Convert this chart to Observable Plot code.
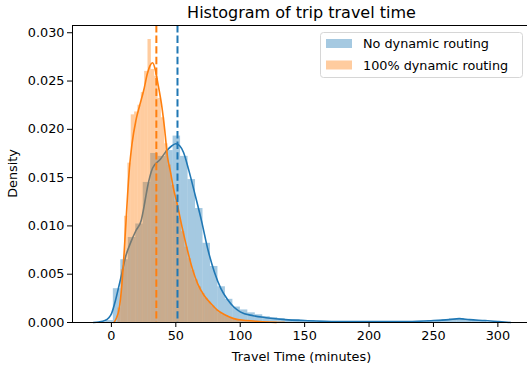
<!DOCTYPE html>
<html><head><meta charset="utf-8">
<script src="https://cdn.jsdelivr.net/npm/d3@7"></script>
<script src="https://cdn.jsdelivr.net/npm/@observablehq/plot@0.6"></script>
<style>
body{margin:0;background:#fff;}
#wrap{width:527px;height:370px;}
</style></head><body><div id="wrap"></div>
<script>
// ---- data ----
const seriesNames = ["No dynamic routing", "100% dynamic routing"];
const seriesColors = ["#1f77b4", "#ff7f0e"];

// histogram (density) — No dynamic routing
const blueBinStart = -4.3, blueBinWidth = 5.8;
const blueDensity = [0.0002, 0.0035, 0.0065, 0.0088, 0.0102, 0.0145, 0.0175, 0.0172, 0.0178, 0.0193,
  0.0172, 0.0148, 0.0118, 0.0082, 0.0058, 0.0037, 0.0024, 0.0016, 0.0013, 0.0010,
  0.0008, 0.0006, 0.0005, 0.0004, 0.0003, 0.0003, 0.0002, 0.0002, 0.0001, 0.0001,
  0.0001, 0.0001, 0.0001, 0.0001, 0.0001, 0.0001, 0.0001, 0.0001, 0.0001, 0.0001,
  0.0001, 0.0001, 0.0001, 0.0002, 0.0002, 0.0003, 0.0004, 0.0004, 0.0003, 0.0002, 0.0001];

// histogram (density) — 100% dynamic routing
const orangeBinStart = 5.0, orangeBinWidth = 2.6;
const orangeDensity = [0.0015, 0.0055, 0.011, 0.0165, 0.0215, 0.0218, 0.0225, 0.0238, 0.026, 0.0293,
  0.0262, 0.0255, 0.0232, 0.0212, 0.0185, 0.0163, 0.0142, 0.0125, 0.0108, 0.0094,
  0.0078, 0.0066, 0.0054, 0.0044, 0.0037, 0.003, 0.0025, 0.0021, 0.0017, 0.0013,
  0.001, 0.0008, 0.0007, 0.0005, 0.0004, 0.0003, 0.0003, 0.0002, 0.0002, 0.0001,
  0.0001, 0.0001, 0.0001, 0.0001, 0.0001, 0.0001, 0.0001, 0.0001, 0.0001, 0.0001];

// KDE curves
const blueKdeX = [-14, -10, -5, -2, 0, 3, 5, 8, 11, 15, 19, 23, 26, 28, 32, 38, 43, 47, 50, 53, 56, 60, 65, 70, 75, 80, 85, 90, 95, 100, 110, 120, 135, 150, 175, 200, 230, 250, 262, 270, 278, 290, 300, 310];
const blueKdeY = [0, 0.00005, 0.0002, 0.0005, 0.0009, 0.0022, 0.0033, 0.005, 0.0068, 0.0083, 0.0095, 0.0105, 0.0125, 0.014, 0.016, 0.0169, 0.0178, 0.0183, 0.0185, 0.0183, 0.0176, 0.0158, 0.0132, 0.0105, 0.0075, 0.0052, 0.0035, 0.0024, 0.0016, 0.0011, 0.0007, 0.0005, 0.0003, 0.0002, 0.0001, 0.0001, 0.0001, 0.0002, 0.0003, 0.0004, 0.0003, 0.0002, 0.0001, 0];
const orangeKdeX = [2, 4, 6, 8, 10, 12, 14, 16, 19, 22, 25, 28, 30, 32, 34, 36, 39, 41.5, 43.5, 46, 48, 51, 55, 59, 63, 67, 72, 77, 82, 88, 95, 105, 115, 128];
const orangeKdeY = [0, 0.0005, 0.0014, 0.0037, 0.0075, 0.012, 0.016, 0.0185, 0.0209, 0.0225, 0.024, 0.0258, 0.0266, 0.0269, 0.0262, 0.0248, 0.0225, 0.0198, 0.0172, 0.0155, 0.014, 0.0123, 0.0098, 0.0075, 0.0055, 0.004, 0.0028, 0.002, 0.0013, 0.0008, 0.0004, 0.0002, 0.0001, 0];

// means (dashed lines)
const blueMean = 51.3, orangeMean = 34.9;

// ticks & labels
const xTicks = [0, 50, 100, 150, 200, 250, 300];
const yTicks = [0, 0.005, 0.010, 0.015, 0.020, 0.025, 0.030];
const titleText = "Histogram of trip travel time";
const xLabel = "Travel Time (minutes)";
const yLabel = "Density";

// ---- build tables ----
const bins = (start, w, ys) => ys.map((y, i) => ({x1: start + i * w, x2: start + (i + 1) * w, y}));
const blueBins = bins(blueBinStart, blueBinWidth, blueDensity);
const orangeBins = bins(orangeBinStart, orangeBinWidth, orangeDensity);
const blueKde = blueKdeX.map((x, i) => ({x, y: blueKdeY[i]}));
const orangeKde = orangeKdeX.map((x, i) => ({x, y: orangeKdeY[i]}));

const FONT = "DejaVu Sans, sans-serif";
const xDomain = [-30.2, 323];
const yDomain = [0, 0.03075];

const plot = Plot.plot({
  width: 527, height: 370,
  marginLeft: 72, marginRight: 0, marginTop: 25, marginBottom: 48,
  style: {fontFamily: FONT, fontSize: "12.8px", color: "#000", background: "#fff", overflow: "visible"},
  x: {domain: xDomain},
  y: {domain: yDomain},
  marks: [
    Plot.rectY(blueBins, {x1: "x1", x2: "x2", y: "y", fill: seriesColors[0], fillOpacity: 0.4, inset: 0}),
    Plot.line(blueKde, {x: "x", y: "y", stroke: seriesColors[0], strokeWidth: 1.6, curve: "monotone-x"}),
    Plot.rectY(orangeBins, {x1: "x1", x2: "x2", y: "y", fill: seriesColors[1], fillOpacity: 0.4, inset: 0}),
    Plot.line(orangeKde, {x: "x", y: "y", stroke: seriesColors[1], strokeWidth: 1.6, curve: "monotone-x"}),
    Plot.ruleX([orangeMean], {stroke: seriesColors[1], strokeWidth: 2, strokeDasharray: "7.4,3.2"}),
    Plot.ruleX([blueMean], {stroke: seriesColors[0], strokeWidth: 2, strokeDasharray: "7.4,3.2"}),
    Plot.ruleX([xDomain[0]], {stroke: "#000", strokeWidth: 1}),
    Plot.ruleY([yDomain[0]], {stroke: "#000", strokeWidth: 1}),
    Plot.ruleY([yDomain[1]], {stroke: "#000", strokeWidth: 1}),
    Plot.axisX({ticks: xTicks, tickSize: 5, tickPadding: 3, label: null, fontSize: 12.8}),
    Plot.axisY({ticks: yTicks, tickSize: 5, tickPadding: 3, tickFormat: d3.format(".3f"), label: null, fontSize: 12.8})
  ]
});

const svg = d3.select(plot);
svg.append("text").attr("x", 301.5).attr("y", 18.3).attr("text-anchor", "middle")
  .attr("font-family", FONT).attr("font-size", 16).attr("fill", "#000").text(titleText);
svg.append("text").attr("x", 301.5).attr("y", 361).attr("text-anchor", "middle")
  .attr("font-family", FONT).attr("font-size", 12.8).attr("fill", "#000").text(xLabel);
svg.append("text").attr("transform", "translate(16.5,173.5) rotate(-90)").attr("text-anchor", "middle")
  .attr("font-family", FONT).attr("font-size", 12.8).attr("fill", "#000").text(yLabel);

// legend
const lg = svg.append("g").attr("text-anchor", "start");
lg.append("rect").attr("x", 320.5).attr("y", 32.5).attr("width", 202).attr("height", 45).attr("rx", 3)
  .attr("fill", "#fff").attr("fill-opacity", 0.8).attr("stroke", "#d6d6d6");
seriesNames.forEach((name, i) => {
  const yy = 39 + i * 21.5;
  lg.append("rect").attr("x", 326).attr("y", yy).attr("width", 26).attr("height", 9)
    .attr("fill", seriesColors[i]).attr("fill-opacity", 0.4);
  lg.append("text").attr("x", 363).attr("y", yy + 9).attr("text-anchor", "start")
    .attr("font-family", FONT).attr("font-size", 12.8).attr("fill", "#000").text(name);
});

document.getElementById("wrap").appendChild(plot);
</script>
</body></html>
